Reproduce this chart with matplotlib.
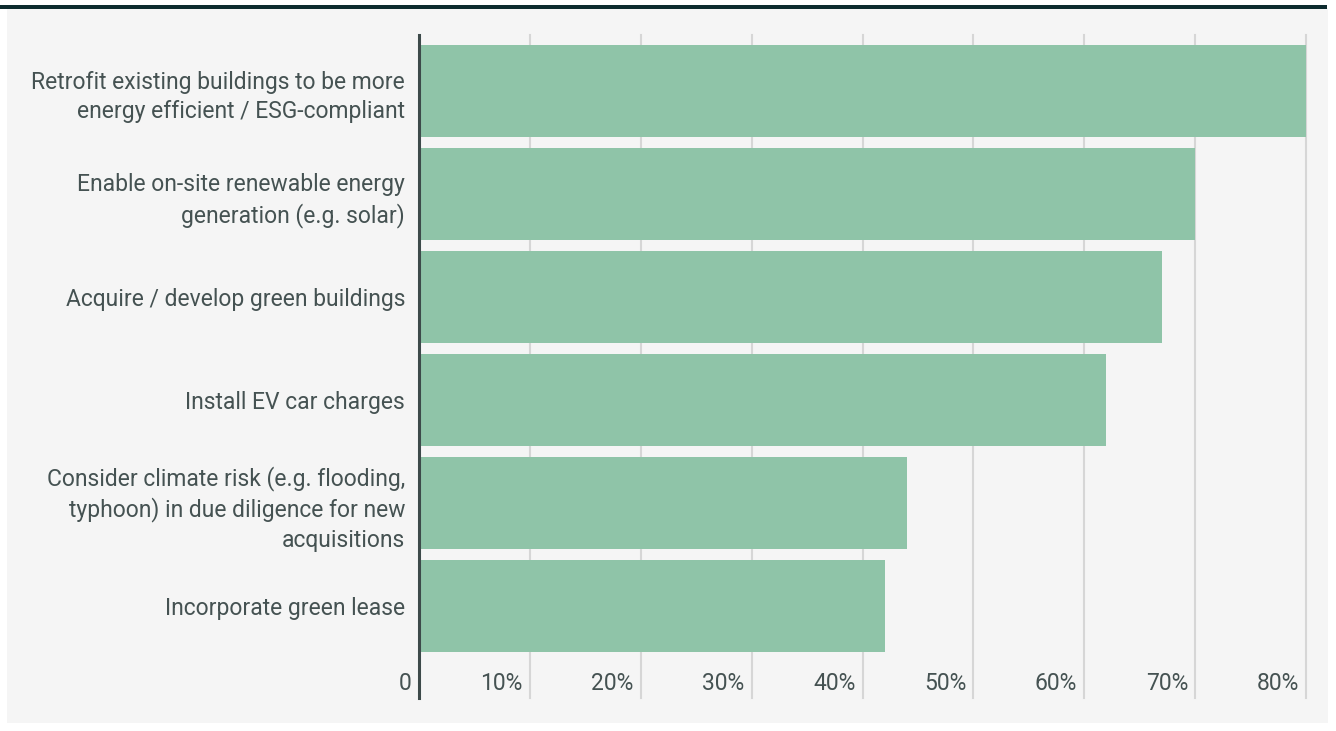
import matplotlib.pyplot as plt
import matplotlib.transforms as mtransforms
from matplotlib.patches import Rectangle

categories = [
    "Retrofit existing buildings to be more\nenergy efficient / ESG-compliant",
    "Enable on-site renewable energy\ngeneration (e.g. solar)",
    "Acquire / develop green buildings",
    "Install EV car charges",
    "Consider climate risk (e.g. flooding,\ntyphoon) in due diligence for new\nacquisitions",
    "Incorporate green lease",
]
values = [80, 70, 67, 62, 44, 42]
ticks = [10, 20, 30, 40, 50, 60, 70, 80]

plt.rcParams['font.family'] = ['Roboto', 'DejaVu Sans']
text_color = '#455252'
bar_color = '#8fc4a8'
fs = 16.5

W, H = 1336, 731
fig = plt.figure(figsize=(W / 100, H / 100), dpi=100, facecolor='white')

# panel background and top rule
fig.patches.append(Rectangle((7 / W, 1 - 723 / H), 1321 / W, 715 / H,
                             transform=fig.transFigure, facecolor='#f5f5f5',
                             edgecolor='none', zorder=-2))
fig.patches.append(Rectangle((0, 1 - 9 / H), 1327 / W, 4 / H,
                             transform=fig.transFigure, facecolor='#0d2b2e',
                             edgecolor='none', zorder=-1))

ax = fig.add_axes([419 / W, 1 - 698 / H, 887 / W, 663 / H])
ax.set_facecolor('none')

y = list(range(len(categories)))
ax.barh(y, values, height=0.893, color=bar_color, zorder=2)
ax.set_xlim(0, 80)
ax.set_ylim(5.893, -0.544)

for t in ticks:
    ax.axvline(t, color='#d6d6d6', linewidth=1.5, zorder=1, clip_on=False)

for s in ['top', 'right', 'bottom']:
    ax.spines[s].set_visible(False)
ax.spines['left'].set_color('#3d4a4a')
ax.spines['left'].set_linewidth(2.2)
ax.spines['left'].set_zorder(3)

ax.set_xticks([])
ax.set_yticks(y)
ax.set_yticklabels(categories, fontsize=fs, color=text_color, linespacing=1.36)
ax.tick_params(axis='y', length=0, pad=10)

# value labels sit inside the plot, left of each gridline
off = mtransforms.offset_copy(ax.get_xaxis_transform(), fig=fig, x=-7, y=0, units='dots')
ax.text(0, 0.0226, "0", transform=off, ha='right', va='center', fontsize=fs, color=text_color)
for t in ticks:
    ax.text(t, 0.0226, f"{t}%", transform=off, ha='right', va='center',
            fontsize=fs, color=text_color, zorder=4)

fig.savefig('out.png', dpi=100, facecolor='white')
